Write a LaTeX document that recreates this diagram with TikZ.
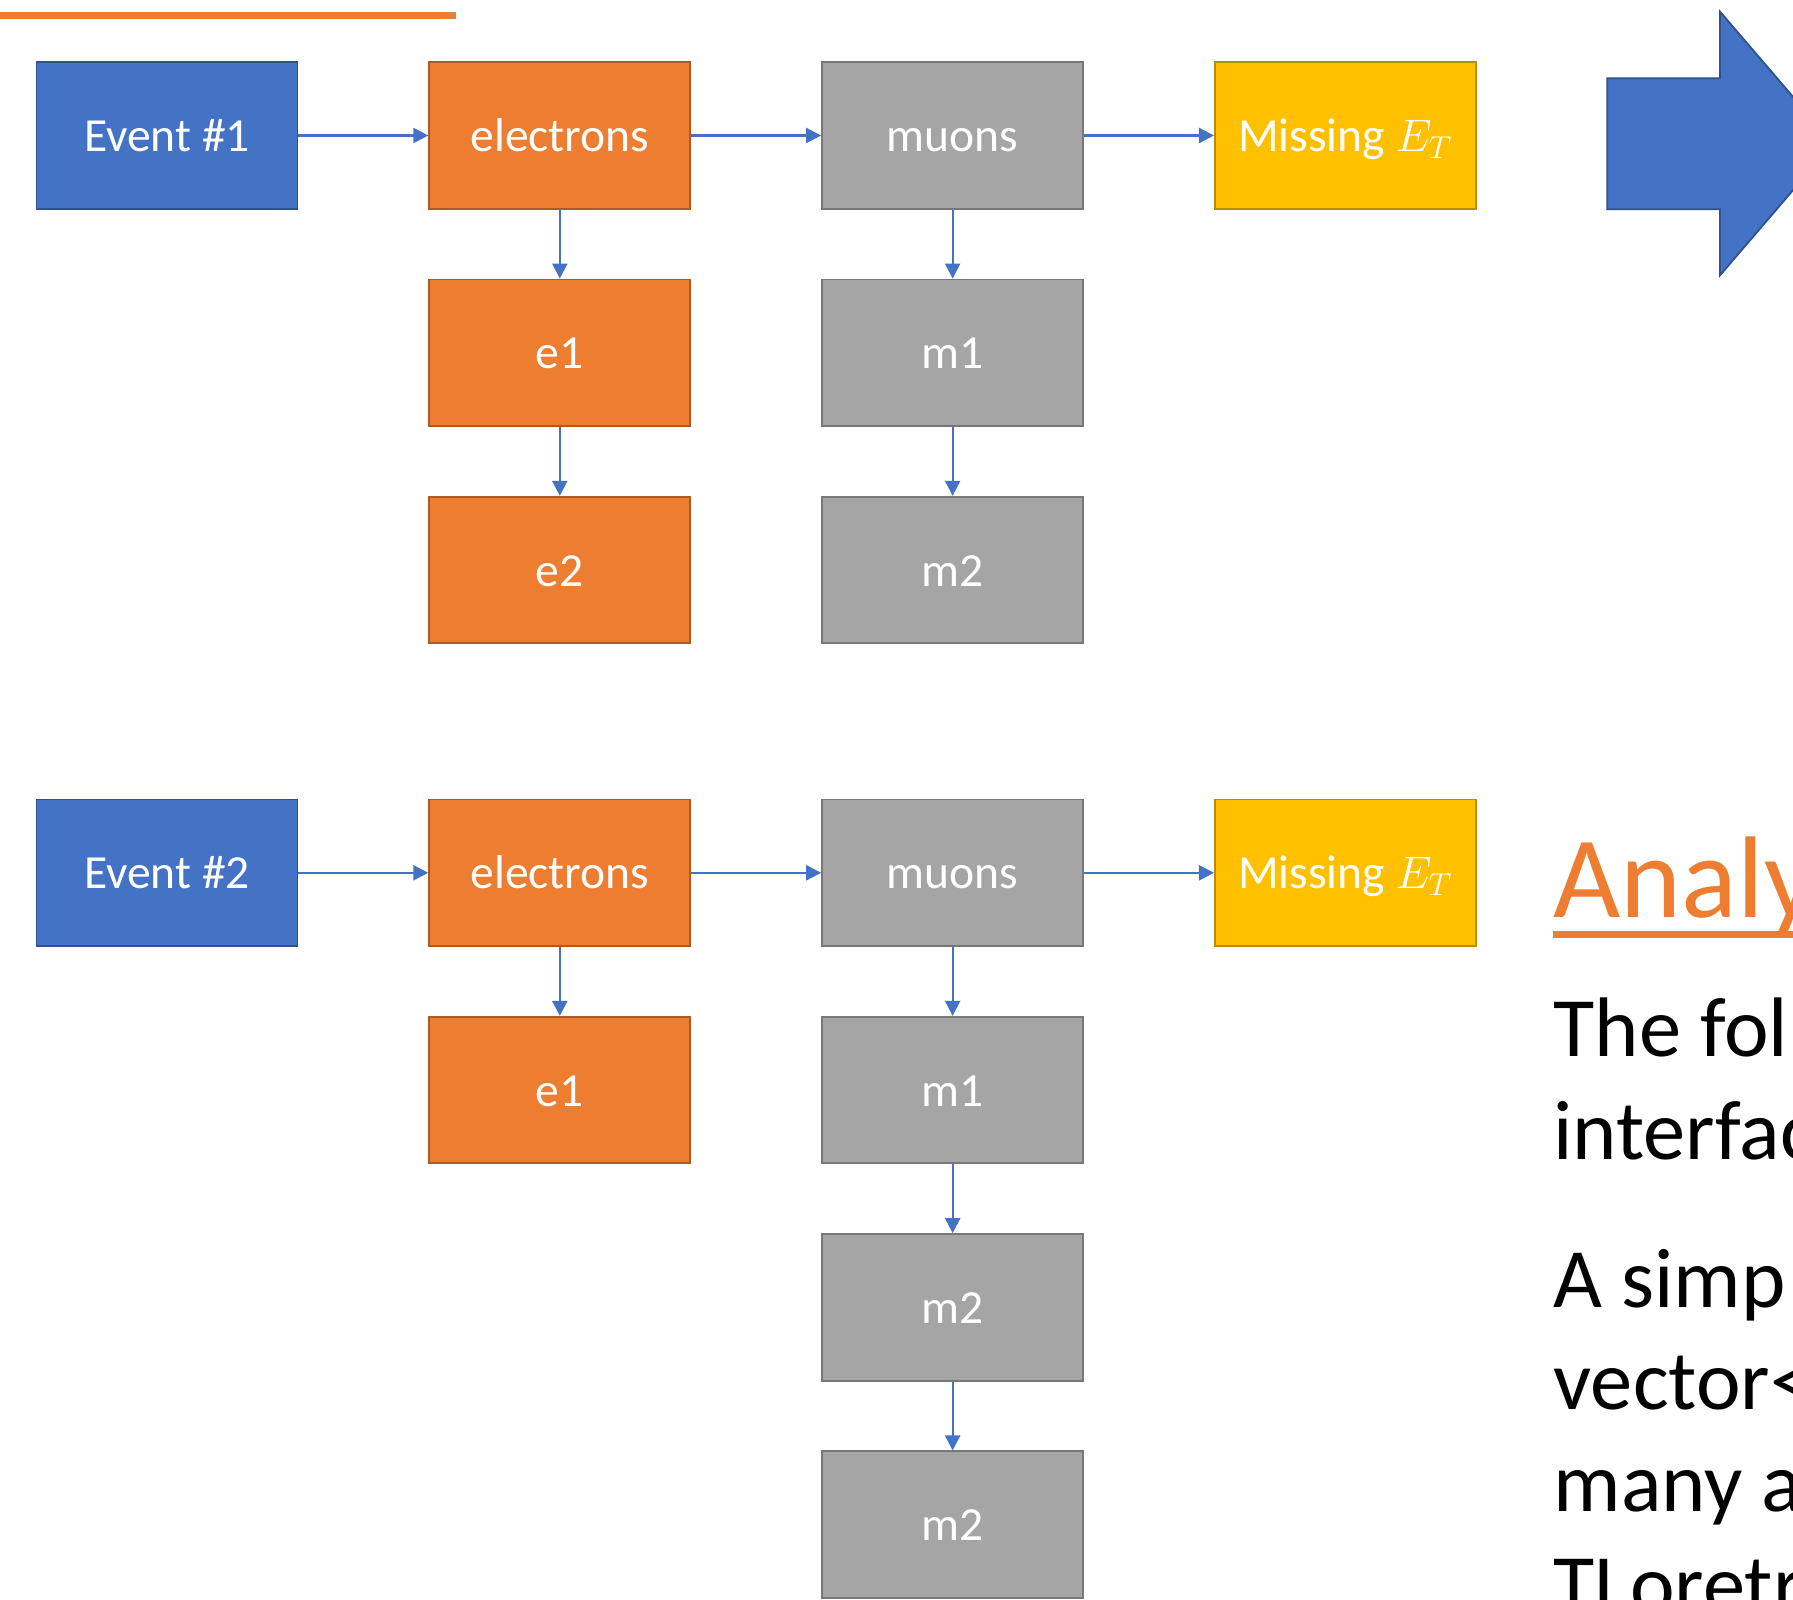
\documentclass[tikz,border=0pt]{standalone}
\usepackage{fontspec}
\setmainfont{Carlito}
\usetikzlibrary{arrows.meta, positioning}
\definecolor{OffBlue}{HTML}{4472C4}
\definecolor{OffBlueDark}{HTML}{2F528F}
\definecolor{OffOrange}{HTML}{ED7D31}
\definecolor{OffOrangeDark}{HTML}{AE5A21}
\definecolor{OffGray}{HTML}{A5A5A5}
\definecolor{OffGrayDark}{HTML}{787878}
\definecolor{OffGold}{HTML}{FFC000}
\definecolor{OffGoldDark}{HTML}{BC8C00}

\begin{document}
\begin{tikzpicture}[x=0.3788pt, y=-0.3788pt, node distance=26.1pt and 49.2pt,
        box/.style={rectangle, minimum width=98.9pt, minimum height=55.5pt, inner sep=0pt, line width=0.7pt, text=white, text height=14pt, text depth=1.8pt, font=\fontsize{18}{21}\selectfont},
        evbox/.style={box, draw=OffBlueDark, fill=OffBlue},
        elbox/.style={box, draw=OffOrangeDark, fill=OffOrange},
        mubox/.style={box, draw=OffGrayDark, fill=OffGray},
        metbox/.style={box, draw=OffGoldDark, fill=OffGold},
        arrow/.style={-{Triangle[length=5.7pt, width=5.7pt]}, line width=0.85pt, OffBlue},
        bodyline/.style={anchor=base west, inner sep=0pt, font=\fontsize{32}{38}\selectfont}]

        \fill[white] (0,0) rectangle (1793,1600);
        \useasboundingbox (0,0) rectangle (1793,1600);
        \clip (0,0) rectangle (1793,1600);

        \draw[OffOrange, line width=2.5pt] (0,15.3) -- (456,15.3);

        % first event
        \node[evbox] (ev1) at (167,135.5) {Event \#1};
        \node[elbox, right=of ev1] (el1) {electrons};
        \node[mubox, right=of el1] (mu1) {muons};
        \node[metbox, right=of mu1] (met1) {Missing $E_T$};
        \node[elbox, below=of el1] (e11) {e1};
        \node[elbox, below=of e11] (e12) {e2};
        \node[mubox, below=of mu1] (m11) {m1};
        \node[mubox, below=of m11] (m12) {m2};

        \draw[arrow] (ev1) -- (el1);
        \draw[arrow] (el1) -- (mu1);
        \draw[arrow] (mu1) -- (met1);
        \draw[arrow] (el1) -- (e11);
        \draw[arrow] (e11) -- (e12);
        \draw[arrow] (mu1) -- (m11);
        \draw[arrow] (m11) -- (m12);

        % second event
        \node[evbox] (ev2) at (167,872.8) {Event \#2};
        \node[elbox, right=of ev2] (el2) {electrons};
        \node[mubox, right=of el2] (mu2) {muons};
        \node[metbox, right=of mu2] (met2) {Missing $E_T$};
        \node[elbox, below=of el2] (e21) {e1};
        \node[mubox, below=of mu2] (m21) {m1};
        \node[mubox, below=of m21] (m22) {m2};
        \node[mubox, below=of m22] (m23) {m2};

        \draw[arrow] (ev2) -- (el2);
        \draw[arrow] (el2) -- (mu2);
        \draw[arrow] (mu2) -- (met2);
        \draw[arrow] (el2) -- (e21);
        \draw[arrow] (mu2) -- (m21);
        \draw[arrow] (m21) -- (m22);
        \draw[arrow] (m22) -- (m23);

        % big arrow, tip runs off the page
        \filldraw[fill=OffBlue, draw=OffBlueDark, line width=0.7pt]
            (1607.3,78.3) -- (1720,78.3) -- (1720,11.7) -- (1833,143.5)
            -- (1720,275.3) -- (1720,209.3) -- (1607.3,209.3) -- cycle;

        % text on the right, cut by the page edge
        \node[anchor=base west, inner sep=0pt, text=OffOrange, font=\fontsize{44}{53}\selectfont] (title) at (1553,918) {Analy};
        \draw[OffOrange, line width=2.65pt] (title.base west) ++(0,16.5) -- ++(260,0);
        \node[bodyline] (l1) at (1553,1057) {The fol};
        \node[bodyline] (l2) at (1553,1159) {interfac};
        \node[bodyline] (l3) at (1553,1307) {A simp};
        \node[bodyline] (l4) at (1553,1409) {vector<};
        \node[bodyline] (l5) at (1553,1511) {many a};
        \node[bodyline] (l6) at (1553,1613) {TLoretr};
    \end{tikzpicture}
\end{document}
